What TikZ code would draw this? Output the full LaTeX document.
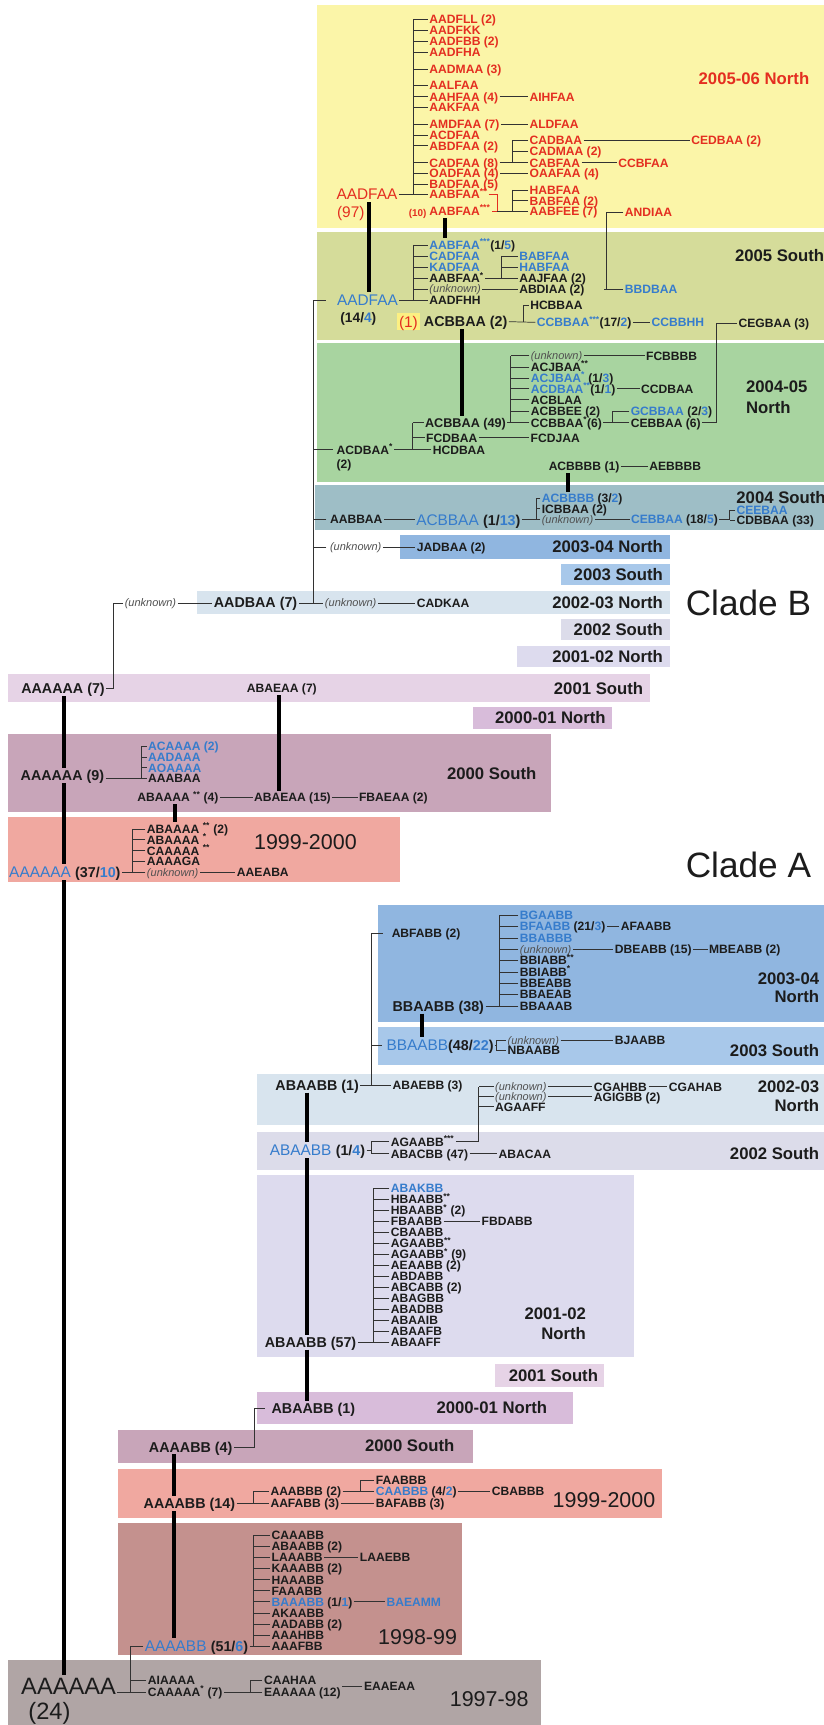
\documentclass[tikz,border=0pt]{standalone}
\usepackage{fontspec}
\setmainfont{Liberation Sans}
\usetikzlibrary{calc}
\definecolor{cred}{RGB}{228,46,32}
\definecolor{cblue}{RGB}{54,124,204}
\definecolor{ctext}{RGB}{28,28,28}
\definecolor{cunk}{RGB}{80,80,80}
\definecolor{cline}{RGB}{50,50,50}
\definecolor{cHL}{RGB}{252,240,130}
\definecolor{cY}{RGB}{251,245,168}
\definecolor{cOl}{RGB}{213,220,154}
\definecolor{cGr}{RGB}{168,212,160}
\definecolor{cTe}{RGB}{158,190,198}
\definecolor{cBl}{RGB}{144,182,224}
\definecolor{cBl2}{RGB}{168,200,234}
\definecolor{cLB}{RGB}{216,228,238}
\definecolor{cLS}{RGB}{220,220,234}
\definecolor{cLN}{RGB}{221,219,238}
\definecolor{cP1}{RGB}{230,211,230}
\definecolor{cP2}{RGB}{216,188,218}
\definecolor{cP3}{RGB}{200,165,185}
\definecolor{cSal}{RGB}{240,168,160}
\definecolor{cBr}{RGB}{196,145,142}
\definecolor{cGy}{RGB}{176,165,165}
\newcommand\B[1]{\textcolor{cblue}{#1}}
\newcommand\K[1]{\textcolor{ctext}{#1}}
\newcommand\st[1]{\textsuperscript{#1}}
\newcommand\cnt[1]{{\fontsize{13}{13}\selectfont\bfseries #1}}
\newcommand\band[5]{\fill[#5] (#1,#2) rectangle (#3,#4);}
\newcommand\brak[3]{\draw[ln] (#2.west -| #1,0) -- (#3.west -| #1,0);}
\newcommand\ticks[2]{\foreach \nn in {#2} {\draw[ln] (\nn.west) -- (\nn.west -| #1,0);}}
\newcommand\joinp[2]{\draw[ln] (#2.east) -- (#2.east -| #1,0);}
\tikzset{
  T/.style={inner xsep=1.2pt,inner ysep=0pt,text depth=0pt,anchor=west},
  sm/.style={T,font=\fontsize{11}{11}\selectfont\bfseries,text=ctext,text height=7.9pt},
  smr/.style={sm,text=cred},
  smb/.style={sm,text=cblue},
  unk/.style={T,font=\fontsize{10}{10}\selectfont\itshape,text=cunk,text height=7.2pt},
  med/.style={T,font=\fontsize{13}{13}\selectfont\bfseries,text=ctext,text height=9.3pt},
  big/.style={T,font=\fontsize{14}{14}\selectfont,text=ctext,text height=10pt},
  huge/.style={T,font=\fontsize{21.5}{21.5}\selectfont,text=ctext,text height=15.4pt},
  yr/.style={T,font=\fontsize{15.2}{15.2}\selectfont\bfseries,text=ctext,text height=10.9pt},
  dec/.style={T,font=\fontsize{19.5}{19.5}\selectfont,text=ctext,text height=14pt},
  clade/.style={T,font=\fontsize{32}{32}\selectfont,text=ctext,text height=23pt},
  ln/.style={line width=0.65pt,draw=cline},
  thk/.style={line width=3.6pt,draw=black,shorten <=2pt,shorten >=2pt},
}
\begin{document}
\begin{tikzpicture}[x=1pt,y=-1pt]
\useasboundingbox (0,0) rectangle (749,1568);
\fill[white] (0,0) rectangle (749,1568);
% ---------- bands
\band{288}{4.5}{749}{207}{cY}
\band{288}{210.6}{749}{309}{cOl}
\band{288}{311.5}{749}{438}{cGr}
\band{286.5}{441}{749}{482}{cTe}
\band{364}{486.5}{609}{508}{cBl}
\band{510}{513}{609}{532}{cBl2}
\band{179}{537.5}{609}{558}{cLB}
\band{510}{563}{609}{582}{cLS}
\band{470}{587}{609}{606.5}{cLN}
\band{7.5}{612.5}{591}{638}{cP1}
\band{430}{643}{556}{662.5}{cP2}
\band{7.5}{667}{501}{738.5}{cP3}
\band{7.5}{743}{364}{802}{cSal}
\band{343.7}{822.7}{749}{928.8}{cBl}
\band{343.7}{933.3}{749}{968.2}{cBl2}
\band{234}{975.8}{749}{1022.7}{cLB}
\band{234}{1028.8}{749}{1063.6}{cLS}
\band{234}{1068}{576}{1233.3}{cLN}
\band{450}{1239.4}{549.4}{1260.6}{cP1}
\band{234}{1265.2}{520.5}{1294.5}{cP2}
\band{107.3}{1299.4}{429.5}{1330}{cP3}
\band{107.3}{1335}{601.6}{1380}{cSal}
\band{107.6}{1384.8}{419.7}{1504.5}{cBr}
\band{7.1}{1509}{491.9}{1568}{cGy}
% ---------- 2005-06 North
\node[big,text=cred] (yAAD) at (304.5,176.7) {AADFAA};
\node[big,text=cred] (y97) at (305,193) {(97)};
\node[smr] (r1) at (389,17.3) {AADFLL (2)};
\node[smr] (r2) at (389,27.3) {AADFKK};
\node[smr] (r3) at (389,37.6) {AADFBB (2)};
\node[smr] (r4) at (389,47.6) {AADFHA};
\node[smr] (r5) at (389,63) {AADMAA (3)};
\node[smr] (r6) at (389,77.6) {AALFAA};
\node[smr] (r7) at (389,87.9) {AAHFAA (4)};
\node[smr] (r8) at (389,97.6) {AAKFAA};
\node[smr] (r9) at (389,113) {AMDFAA (7)};
\node[smr] (r10) at (389,122.7) {ACDFAA};
\node[smr] (r11) at (389,132.4) {ABDFAA (2)};
\node[smr] (r12) at (389,147.9) {CADFAA (8)};
\node[smr] (r13) at (389,157.6) {OADFAA (4)};
\node[smr] (r14) at (389,167.3) {BADFAA (5)};
\node[smr] (r15) at (389,176.9) {AABFAA\st{**}};
\node[smr] (r16) at (389,191.8) {AABFAA\st{***}};
\node[T,font=\fontsize{9}{9}\selectfont\bfseries,text=cred,text height=6.5pt,anchor=east] (r16n) at ($(r16.west)+(0,1.5)$) {(10)};
\ticks{376}{r1,r2,r3,r4,r5,r6,r7,r8,r9,r10,r11,r12,r13,r14,r15}
\brak{376}{r1}{r15}
\joinp{376}{yAAD}
\node[smr] (yAIH) at (480,87.9) {AIHFAA};
\draw[ln] (r7.east) -- (yAIH.west);
\node[smr] (yALD) at (480,113) {ALDFAA};
\draw[ln] (r9.east) -- (yALD.west);
\node[smr] (yCADB) at (480,127.3) {CADBAA};
\node[smr] (yCADM) at (480,137.6) {CADMAA (2)};
\node[smr] (yCABF) at (480,147.9) {CABFAA};
\ticks{466}{yCADB,yCADM,yCABF}
\brak{466}{yCADB}{yCABF}
\joinp{466}{r12}
\node[smr] (yCED) at (627,127.3) {CEDBAA (2)};
\draw[ln] (yCADB.east) -- (yCED.west);
\node[smr] (yCCBF) at (560.6,147.9) {CCBFAA};
\draw[ln] (yCABF.east) -- (yCCBF.west);
\node[smr] (yOAAF) at (480,157.6) {OAAFAA (4)};
\draw[ln] (r13.east) -- (yOAAF.west);
\node[smr] (yHAB) at (480,172.7) {HABFAA};
\node[smr] (yBAB) at (480,182.4) {BABFAA (2)};
\node[smr] (yAABFEE) at (480,191.8) {AABFEE (7)};
\ticks{466}{yHAB,yBAB,yAABFEE}
\brak{466}{yHAB}{yAABFEE}
\draw[ln,draw=cred] (r15.east) -- (r15.east -| 452,0) -- (r16.east -| 452,0) -- (r16.east);
\draw[ln] (r16.east -| 452,0) -- (r16.east -| 466,0);
\node[smr] (yAND) at (566.7,193) {ANDIAA};
\node[yr,text=cred,anchor=east] (L0506) at (737,71) {2005-06 North};
% ---------- 2005 South
\node[big,text=cblue] (bAAD) at (305,272.7) {AADFAA};
\node[T,font=\fontsize{12.5}{12.5}\selectfont\bfseries,text=ctext,text height=9pt] (b144) at (308,288.5) {(14/\B{4})};
\node[sm] (s1) at (389,222.7) {\B{AABFAA\st{***}}(1/\B{5})};
\node[smb] (s2) at (389,232.6) {CADFAA};
\node[smb] (s3) at (389,242.7) {KADFAA};
\node[sm] (s4) at (389,252.9) {AABFAA\st{*}};
\node[unk] (s5) at (389,262.7) {(unknown)};
\node[sm] (s6) at (389,272.7) {AADFHH};
\ticks{376}{s1,s2,s3,s4,s5,s6}
\brak{376}{s1}{s6}
\joinp{376}{bAAD}
\node[smb] (sBAB) at (470.6,232.6) {BABFAA};
\node[smb] (sHAB) at (470.6,242.7) {HABFAA};
\node[sm] (sAAJ) at (470.6,252.9) {AAJFAA (2)};
\ticks{456}{sBAB,sHAB,sAAJ}
\brak{456}{sBAB}{sAAJ}
\joinp{456}{s4}
\node[sm] (sABDI) at (470.6,262.7) {ABDIAA (2)};
\draw[ln] (s5.east) -- (sABDI.west);
\node[smb] (sBBD) at (566.7,262.7) {BBDBAA};
\draw[ln] (yAND.west) -- (yAND.west -| 551.5,0) -- (sBBD.west -| 551.5,0);
\draw[ln] (sBBD.west) -- ++(-18,0);
\node[big,text=cred,fill=cHL,inner xsep=2pt,inner ysep=2.5pt] (one) at (360.5,292.4) {(1)};
\node[med] (sACB2) at (384,292.4) {ACBBAA (2)};
\node[sm] (sHCB) at (480.6,277.3) {HCBBAA};
\node[sm] (sCCB) at (486.6,293) {\B{CCBBAA\st{***}}(17/\B{2})};
\draw[ln] (sACB2.east) -- (sCCB.west);
\draw[ln] (sHCB.west) -- (sHCB.west -| 475.5,0) -- (sCCB.west -| 475.5,0);
\node[smb] (sCCBH) at (590.9,293) {CCBBHH};
\draw[ln] (sCCB.east) -- (sCCBH.west);
\node[sm] (sCEG) at (670,293.9) {CEGBAA (3)};
\node[yr] (L05S) at (666.7,232) {2005 South};
% ---------- 2004-05 North
\node[sm] (gACD) at (304.6,408.8) {ACDBAA\st{*}};
\node[sm] (gACD2) at (304.6,421.6) {(2)};
\node[sm,font=\fontsize{11.5}{11.5}\selectfont\bfseries] (gACB49) at (385,384.2) {ACBBAA (49)};
\node[sm] (gFCD) at (386,398) {FCDBAA};
\node[sm] (gHCD) at (392,408.8) {HCDBAA};
\ticks{375}{gACB49,gFCD,gHCD}
\brak{375}{gACB49}{gHCD}
\joinp{375}{gACD}
\node[sm] (gFCDJ) at (481,398) {FCDJAA};
\draw[ln] (gFCD.east) -- (gFCDJ.west);
\node[unk] (g1) at (481.1,323.4) {(unknown)};
\node[sm] (g2) at (481.1,333.5) {ACJBAA\st{**}};
\node[sm] (g3) at (481.1,343.5) {\B{ACJBAA\st{*}} (1/\B{3})};
\node[sm] (g4) at (481.1,353.4) {\B{ACDBAA\st{**}}(1/\B{1})};
\node[sm] (g5) at (481.1,363.4) {ACBLAA};
\node[sm] (g6) at (481.1,373.8) {ACBBEE (2)};
\node[sm] (g7) at (481.1,384.2) {CCBBAA\st{*}(6)};
\ticks{464.3}{g1,g2,g3,g4,g5,g6,g7}
\brak{464.3}{g1}{g7}
\joinp{464.3}{gACB49}
\node[sm] (gFCBB) at (585.9,323.4) {FCBBBB};
\draw[ln] (g1.east) -- (gFCBB.west);
\node[sm] (gCCD) at (581.3,353.4) {CCDBAA};
\draw[ln] (g4.east) -- (gCCD.west);
\node[sm] (gGCB) at (572,373.8) {\B{GCBBAA} (2/\B{3})};
\node[sm] (gCEB6) at (572,384.2) {CEBBAA (6)};
\ticks{557}{gGCB,gCEB6}
\brak{557}{gGCB}{gCEB6}
\joinp{557}{g7}
\draw[ln] (sCEG.west) -- (sCEG.west -| 651.5,0) -- (gCEB6.east -| 651.5,0) -- (gCEB6.east);
\node[sm] (gACBBBB) at (497.4,424) {ACBBBB (1)};
\node[sm] (gAEB) at (588.9,424) {AEBBBB};
\draw[ln] (gACBBBB.east) -- (gAEB.west);
\node[yr] (L0405a) at (676.8,351.6) {2004-05};
\node[yr] (L0405b) at (676.8,370) {North};
% ---------- 2004 South
\node[sm] (tAAB) at (298.6,472.3) {AABBAA};
\node[big,text=cblue] (tACB) at (377,472.3) {ACBBAA \K{\cnt{(1/\B{13})}}};
\draw[ln] (tAAB.east) -- (tACB.west);
\node[sm] (t1) at (491.1,453) {\B{ACBBBB} (3/\B{2})};
\node[sm] (t2) at (491.1,462.4) {ICBBAA (2)};
\node[unk] (t3) at (491.1,472.3) {(unknown)};
\ticks{487.1}{t1,t2,t3}
\brak{487.1}{t1}{t3}
\joinp{487.1}{tACB}
\node[sm] (tCEB) at (572.2,472.3) {\B{CEBBAA} (18/\B{5})};
\draw[ln] (t3.east) -- (tCEB.west);
\node[smb] (tCEE) at (668.1,463.5) {CEEBAA};
\node[sm] (tCDB) at (668.1,472.8) {CDBBAA (33)};
\ticks{663.4}{tCEE,tCDB}
\brak{663.4}{tCEE}{tCDB}
\joinp{663.4}{tCEB}
\node[yr] (L04S) at (668,452) {2004 South};
% ---------- Clade B small seasons
\node[unk] (tUnk) at (298.6,497.2) {(unknown)};
\node[sm] (tJAD) at (377.6,497.2) {JADBAA (2)};
\draw[ln] (tUnk.east) -- (tJAD.west);
\node[yr,anchor=east] (L0304Nb) at (604,497.2) {2003-04 North};
\node[yr,anchor=east] (L03Sb) at (604,522.5) {2003 South};
\node[yr,anchor=east] (L0203Nb) at (604,548) {2002-03 North};
\node[yr,anchor=east] (L02Sb) at (604,572.5) {2002 South};
\node[yr,anchor=east] (L0102Nb) at (604,597) {2001-02 North};
\node[yr,anchor=east] (L01Sb) at (586,625.5) {2001 South};
\node[yr,anchor=east] (L0001Nb) at (552,652.5) {2000-01 North};
\node[unk] (cUnk0) at (112,548) {(unknown)};
\node[med] (cAADB) at (193,548) {AADBAA (7)};
\node[unk] (cUnk1) at (294,548) {(unknown)};
\node[sm] (cCADK) at (377.6,548) {CADKAA};
\draw[ln] (cUnk0.east) -- (cAADB.west);
\draw[ln] (cAADB.east) -- (cUnk1.west);
\draw[ln] (cUnk1.east) -- (cCADK.west);
\draw[ln,shorten <=9pt] (bAAD.west) -- (bAAD.west -| 284.5,0) -- (cAADB.east -| 284.5,0);
\foreach \nn in {gACD,tAAB,tUnk} {\draw[ln,shorten <=2pt] (\nn.west) -- (\nn.west -| 284.5,0);}
\node[clade] (cladeB) at (622,548) {Clade B};
% ---------- 2001 South / 2000 South / 1999-2000 (clade B)
\node[med] (cA7) at (18,625.8) {AAAAAA (7)};
\node[sm] (cABAE7) at (223,625.8) {ABAEAA (7)};
\draw[ln] (cUnk0.west) -- (cUnk0.west -| 103,0) -- (cA7.east -| 103,0) -- (cA7.east);
\node[med] (cA9) at (17.4,705) {AAAAAA (9)};
\node[smb] (p1) at (133.3,678.2) {ACAAAA (2)};
\node[smb] (p2) at (133.3,688) {AADAAA};
\node[smb] (p3) at (133.3,697.8) {AOAAAA};
\node[sm] (p4) at (133.3,707.6) {AAABAA};
\ticks{128.7}{p1,p2,p3,p4}
\brak{128.7}{p1}{p4}
\draw[ln] (p4.west -| cA9.east) -- (p4.west -| 128.7,0);
\node[sm] (pABA4) at (123.5,724.8) {ABAAAA \st{**} (4)};
\node[sm] (pABAE15) at (229.6,724.8) {ABAEAA (15)};
\node[sm] (pFBA) at (325,724.8) {FBAEAA (2)};
\draw[ln] (pABA4.east) -- (pABAE15.west);
\draw[ln] (pABAE15.east) -- (pFBA.west);
\node[yr] (L00Sb) at (405,703) {2000 South};
\node[big,text=cblue] (qA3710) at (7,793) {AAAAAA \K{\cnt{(37/\B{10})}}};
\node[sm] (q1) at (132.2,753.5) {ABAAAA \st{**} (2)};
\node[sm] (q2) at (132.2,763.4) {ABAAAA \st{*}};
\node[sm] (q3) at (132.2,773.3) {CAAAAA \st{**}};
\node[sm] (q4) at (132.2,783.2) {AAAAGA};
\node[unk] (q5) at (132.2,793) {(unknown)};
\ticks{120}{q1,q2,q3,q4,q5}
\brak{120}{q1}{q5}
\joinp{120}{qA3710}
\node[sm] (qAAE) at (214,793) {AAEABA};
\draw[ln] (q5.east) -- (qAAE.west);
\node[dec] (L9900b) at (229.6,765) {1999-2000};
\node[clade] (cladeA) at (622,786) {Clade A};
% ---------- Clade A
\node[sm] (aABF) at (354.7,848.5) {ABFABB (2)};
\node[smb] (a1) at (471.2,832) {BGAABB};
\node[sm] (a2) at (471.2,842.3) {\B{BFAABB} (21/\B{3})};
\node[smb] (a3) at (471.2,852.6) {BBABBB};
\node[unk] (a4) at (471.2,862.9) {(unknown)};
\node[sm] (a5) at (471.2,873.2) {BBIABB\st{**}};
\node[sm] (a6) at (471.2,883.5) {BBIABB\st{*}};
\node[sm] (a7) at (471.2,893.8) {BBEABB};
\node[sm] (a8) at (471.2,904.1) {BBAEAB};
\node[sm] (a9) at (471.2,914.4) {BBAAAB};
\node[med] (aBB38) at (355.5,914.4) {BBAABB (38)};
\ticks{454.2}{a1,a2,a3,a4,a5,a6,a7,a8,a9}
\brak{454.2}{a1}{a9}
\joinp{454.2}{aBB38}
\node[sm] (aAFA) at (563,842.3) {AFAABB};
\draw[ln] (a2.east) -- (aAFA.west);
\node[sm] (aDBE) at (557.6,862.9) {DBEABB (15)};
\node[sm] (aMBE) at (643.2,862.9) {MBEABB (2)};
\draw[ln] (a4.east) -- (aDBE.west);
\draw[ln] (aDBE.east) -- (aMBE.west);
\node[yr,anchor=east] (L0304a) at (746,889) {2003-04};
\node[yr,anchor=east] (L0304b) at (746,906) {North};
\node[big,text=cblue] (aBB4822) at (350,950) {BBAABB\K{\cnt{(48/\B{22})}}};
\node[unk] (aU2) at (460,945.5) {(unknown)};
\node[sm] (aNBA) at (460,954.5) {NBAABB};
\ticks{451.3}{aU2,aNBA}
\brak{451.3}{aU2}{aNBA}
\joinp{451.3}{aBB4822}
\node[sm] (aBJA) at (557.6,945.5) {BJAABB};
\draw[ln] (aU2.east) -- (aBJA.west);
\node[yr,anchor=east] (L03Sa) at (746,954.5) {2003 South};
\draw[thk] (aBB38.south -| 383.7,0) -- (aBB4822.north -| 383.7,0);
\node[med] (aAB1) at (249,986.4) {ABAABB (1)};
\node[sm] (aABAE) at (355.4,986.4) {ABAEBB (3)};
\draw[ln] (aAB1.east) -- (aABAE.west);
\draw[ln,shorten <=7pt] (aABF.west) -- (aABF.west -| 337.5,0) -- (aABAE.west -| 337.5,0);
\draw[ln,shorten <=3pt] (aBB4822.west) -- (aBB4822.west -| 337.5,0);
\node[unk] (aU3) at (448.7,987.9) {(unknown)};
\node[unk] (aU4) at (448.7,997) {(unknown)};
\node[sm] (aAGAF) at (448.7,1006) {AGAAFF};
\node[sm] (aCGAHBB) at (538.4,987.9) {CGAHBB};
\node[sm] (aCGAHAB) at (606.6,987.9) {CGAHAB};
\node[sm] (aAGIG) at (538.4,997) {AGIGBB (2)};
\draw[ln] (aU3.east) -- (aCGAHBB.west);
\draw[ln] (aCGAHBB.east) -- (aCGAHAB.west);
\draw[ln] (aU4.east) -- (aAGIG.west);
\node[yr,anchor=east] (L0203a) at (746,988) {2002-03};
\node[yr,anchor=east] (L0203b) at (746,1004.5) {North};
\node[big,text=cblue] (aAB14) at (243.9,1045.5) {ABAABB \K{\cnt{(1/\B{4})}}};
\node[sm] (aAGA3) at (353.8,1037.9) {AGAABB\st{***}};
\node[sm] (aABAC) at (353.8,1048.8) {ABACBB (47)};
\ticks{337.1}{aAGA3,aABAC}
\brak{337.1}{aAGA3}{aABAC}
\joinp{337.1}{aAB14}
\ticks{435.2}{aU3,aU4,aAGAF}
\draw[ln] (aAGA3.east) -- (aAGA3.east -| 435.2,0) -- (aU3.west -| 435.2,0);
\node[sm] (aABACAA) at (451.9,1048.8) {ABACAA};
\draw[ln] (aABAC.east) -- (aABACAA.west);
\node[yr,anchor=east] (L02Sa) at (746,1048.8) {2002 South};
% 2001-02 North
\node[smb] (c1) at (354,1080) {ABAKBB};
\node[sm] (c2) at (354,1090) {HBAABB\st{**}};
\node[sm] (c3) at (354,1100) {HBAABB\st{*} (2)};
\node[sm] (c4) at (354,1110) {FBAABB};
\node[sm] (c5) at (354,1120) {CBAABB};
\node[sm] (c6) at (354,1130) {AGAABB\st{**}};
\node[sm] (c7) at (354,1140) {AGAABB\st{*} (9)};
\node[sm] (c8) at (354,1150) {AEAABB (2)};
\node[sm] (c9) at (354,1160) {ABDABB};
\node[sm] (c10) at (354,1170) {ABCABB (2)};
\node[sm] (c11) at (354,1180) {ABAGBB};
\node[sm] (c12) at (354,1190) {ABADBB};
\node[sm] (c13) at (354,1200) {ABAAIB};
\node[sm] (c14) at (354,1210) {ABAAFB};
\node[sm] (c15) at (354,1220) {ABAAFF};
\node[med] (aAB57) at (239.4,1220) {ABAABB (57)};
\ticks{339.4}{c1,c2,c3,c4,c5,c6,c7,c8,c9,c10,c11,c12,c13,c14,c15}
\brak{339.4}{c1}{c15}
\joinp{339.4}{aAB57}
\node[sm] (cFBD) at (436.4,1110) {FBDABB};
\draw[ln] (c4.east) -- (cFBD.west);
\node[yr,anchor=east] (L0102a) at (534,1194) {2001-02};
\node[yr,anchor=east] (L0102b) at (534,1212) {North};
\node[yr,anchor=east] (L01Sa) at (545,1250) {2001 South};
\node[med] (aAB1b) at (245.5,1280.3) {ABAABB (1)};
\node[yr] (L0001a) at (395.4,1279) {2000-01 North};
\draw[thk] (aAB1.south -| 278.9,0) -- (aAB14.north -| 278.9,0);
\draw[thk] (aAB14.south -| 278.9,0) -- (aAB57.north -| 278.9,0);
\draw[thk] (aAB57.south -| 278.9,0) -- (aAB1b.north -| 278.9,0);
\node[med] (aA4) at (134,1315.2) {AAAABB (4)};
\draw[ln,shorten <=5pt] (aAB1b.west) -- (aAB1b.west -| 231.5,0) -- (aA4.east -| 231.5,0) -- (aA4.east);
\node[yr] (L00Sa) at (330.5,1314) {2000 South};
% 1999-2000
\node[med] (aA14) at (129.2,1366.7) {AAAABB (14)};
\node[sm] (eAAABBB) at (244.5,1355.5) {AAABBB (2)};
\node[sm] (eAAFABB) at (244.5,1366.7) {AAFABB (3)};
\ticks{229.9}{eAAABBB,eAAFABB}
\brak{229.9}{eAAABBB}{eAAFABB}
\joinp{229.9}{aA14}
\node[sm] (eFAABBB) at (340.3,1345.5) {FAABBB};
\node[sm] (eCAABBB) at (340.3,1355.5) {\B{CAABBB} (4/\B{2})};
\ticks{327.3}{eFAABBB,eCAABBB}
\brak{327.3}{eFAABBB}{eCAABBB}
\joinp{327.3}{eAAABBB}
\node[sm] (eCBABBB) at (445.8,1355.5) {CBABBB};
\draw[ln] (eCAABBB.east) -- (eCBABBB.west);
\node[sm] (eBAFABB) at (340.3,1366.7) {BAFABB (3)};
\draw[ln] (eAAFABB.east) -- (eBAFABB.west);
\node[dec] (L9900a) at (501,1363) {1999-2000};
% 1998-99
\node[big,text=cblue] (aA516) at (130.3,1496.4) {AAAABB \K{\cnt{(51/\B{6})}}};
\node[sm] (d1) at (245.5,1395.5) {CAAABB};
\node[sm] (d2) at (245.5,1405.6) {ABAABB (2)};
\node[sm] (d3) at (245.5,1415.7) {LAAABB};
\node[sm] (d4) at (245.5,1425.8) {KAAABB (2)};
\node[sm] (d5) at (245.5,1435.9) {HAAABB};
\node[sm] (d6) at (245.5,1446) {FAAABB};
\node[sm] (d7) at (245.5,1456) {\B{BAAABB} (1/\B{1})};
\node[sm] (d8) at (245.5,1466.1) {AKAABB};
\node[sm] (d9) at (245.5,1476.2) {AADABB (2)};
\node[sm] (d10) at (245.5,1486.3) {AAAHBB};
\node[sm] (d11) at (245.5,1496.4) {AAAFBB};
\ticks{230.3}{d1,d2,d3,d4,d5,d6,d7,d8,d9,d10,d11}
\brak{230.3}{d1}{d11}
\joinp{230.3}{aA516}
\node[sm] (dLAAE) at (325.8,1415.7) {LAAEBB};
\draw[ln] (d3.east) -- (dLAAE.west);
\node[smb] (dBAE) at (350,1456) {BAEAMM};
\draw[ln] (d7.east) -- (dBAE.west);
\node[dec] (L9899) at (342.4,1488) {1998-99};
\draw[thk] (aA4.south -| 158.5,0) -- (aA14.north -| 158.5,0);
\draw[thk] (aA14.south -| 158.5,0) -- (aA516.north -| 158.5,0);
% 1997-98
\node[huge] (aA24) at (17.9,1532.5) {AAAAAA};
\node[huge] (aA24b) at (24.4,1555.5) {(24)};
\node[sm] (fAIA) at (133.1,1527.3) {AIAAAA};
\node[sm] (fCAA7) at (133.1,1538) {CAAAAA\st{*} (7)};
\draw[ln] (aA516.west) -- (aA516.west -| 118.5,0) -- (fCAA7.west -| 118.5,0) -- (fCAA7.west);
\draw[ln] (fAIA.west) -- (fAIA.west -| 118.5,0);
\draw[ln] (fCAA7.west -| aA24.east) -- (fCAA7.west -| 118.5,0);
\node[sm] (fCAAH) at (238.6,1527.3) {CAAHAA};
\node[sm] (fEAA12) at (238.6,1538) {EAAAAA (12)};
\ticks{227.3}{fCAAH,fEAA12}
\brak{227.3}{fCAAH}{fEAA12}
\joinp{227.3}{fCAA7}
\node[sm] (fEAAE) at (329.5,1532.5) {EAAEAA};
\draw[ln] (fEAAE.west) -- (fEAAE.west -| fEAA12.east);
\node[dec] (L9798) at (407.5,1544) {1997-98};
% ---------- thick generation links
\draw[thk] (yAAD.south -| 335,0) -- (bAAD.north -| 335,0);
\draw[thk] (r16.south -| 404.5,0) -- (s1.north -| 404.5,0);
\draw[thk] (sACB2.south -| 420.2,0) -- (gACB49.north -| 420.2,0);
\draw[thk] (gACBBBB.south -| 516,0) -- (t1.north -| 516,0);
\draw[thk] (cA7.south -| 58.4,0) -- (cA9.north -| 58.4,0);
\draw[thk] (cA9.south -| 58.4,0) -- (qA3710.north -| 58.4,0);
\draw[thk] (qA3710.south -| 58.4,0) -- (aA24.north -| 58.4,0);
\draw[thk] (cABAE7.south -| 254,0) -- (pABAE15.north -| 254,0);
\draw[thk] (pABA4.south -| 159.4,0) -- (q1.north -| 159.4,0);
\end{tikzpicture}
\end{document}
